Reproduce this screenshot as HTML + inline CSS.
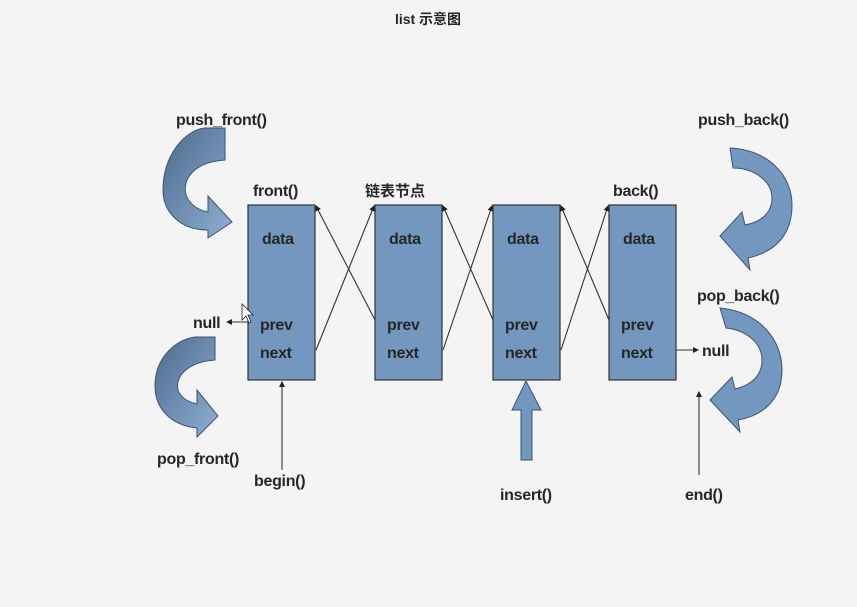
<!DOCTYPE html>
<html><head><meta charset="utf-8"><style>
html,body{margin:0;padding:0;background:#f4f4f4;}
svg{display:block}
text{font-family:"Liberation Sans","Noto Sans CJK SC",sans-serif;font-size:16px;font-weight:bold;fill:#262626;letter-spacing:-0.3px;}
</style></head><body>
<svg width="857" height="607" viewBox="0 0 857 607" xmlns="http://www.w3.org/2000/svg">
<defs>
<marker id="ah" markerWidth="6" markerHeight="6" refX="5" refY="3" orient="auto" markerUnits="userSpaceOnUse"><path d="M0,0 L6,3 L0,6 z" fill="#222"/></marker>
<linearGradient id="g1" x1="0" y1="0" x2="1" y2="1"><stop offset="0" stop-color="#4d6a8c"/><stop offset="1" stop-color="#8fb0d4"/></linearGradient>
</defs>
<rect width="857" height="607" fill="#f4f4f4"/>
<text x="428" y="24" text-anchor="middle" style="font-size:14px;letter-spacing:0">list 示意图</text>

<g fill="#7497c0" stroke="#333" stroke-width="1.2">
<rect x="248" y="205" width="67" height="175"/>
<rect x="375" y="205" width="67" height="175"/>
<rect x="493" y="205" width="67" height="175"/>
<rect x="609" y="205" width="67" height="175"/>
</g>
<g>
<text x="262" y="244">data</text><text x="260" y="330">prev</text><text x="260" y="358">next</text>
<text x="389" y="244">data</text><text x="387" y="330">prev</text><text x="387" y="358">next</text>
<text x="507" y="244">data</text><text x="505" y="330">prev</text><text x="505" y="358">next</text>
<text x="623" y="244">data</text><text x="621" y="330">prev</text><text x="621" y="358">next</text>
</g>
<g stroke="#333" stroke-width="1.1" fill="none">
<line x1="375" y1="320" x2="316" y2="206" marker-end="url(#ah)"/>
<line x1="316" y1="350" x2="374" y2="206" marker-end="url(#ah)"/>
<line x1="493" y1="320" x2="443" y2="206" marker-end="url(#ah)"/>
<line x1="443" y1="350" x2="492" y2="206" marker-end="url(#ah)"/>
<line x1="609" y1="320" x2="561" y2="206" marker-end="url(#ah)"/>
<line x1="561" y1="350" x2="608" y2="206" marker-end="url(#ah)"/>
<line x1="248" y1="322" x2="227" y2="322" marker-end="url(#ah)"/>
<line x1="676" y1="350" x2="698" y2="350" marker-end="url(#ah)"/>
<line x1="282" y1="470" x2="282" y2="382" marker-end="url(#ah)"/>
<line x1="699" y1="475" x2="699" y2="392" marker-end="url(#ah)"/>
</g>
<text x="253" y="196">front()</text>
<text x="365" y="196" style="font-size:15px;letter-spacing:0">链表节点</text>
<text x="613" y="196">back()</text>
<text x="193" y="328">null</text>
<text x="702" y="356">null</text>
<text x="176" y="125">push_front()</text>
<text x="698" y="125">push_back()</text>
<text x="697" y="301">pop_back()</text>
<text x="157" y="464">pop_front()</text>
<text x="254" y="486">begin()</text>
<text x="500" y="500">insert()</text>
<text x="685" y="500">end()</text>

<path d="M526,381 L541,410 L532,410 L532,460 L521,460 L521,410 L512,410 Z" fill="#7497c0" stroke="#3d5472" stroke-width="1"/>

<g stroke="#3d5472" stroke-width="1">
<path d="M205,128 L225,128 L225,160 C195,162 182,178 186,195 C190,205 198,210 208,212 L208,196 L232,222 L208,238 L208,230 C180,230 163,212 163,190 C163,155 185,130 205,128 Z" fill="url(#g1)"/>
<path d="M195,337 L215,337 L215,360 C188,362 175,376 178,390 C181,398 188,402 197,404 L197,390 L218,416 L197,437 L197,428 C170,425 155,408 155,386 C155,358 175,340 195,337 Z" fill="url(#g1)"/>
<path d="M730,148 C768,150 792,175 792,205 C792,235 775,252 748,258 L750,270 L720,236 L742,212 L745,225 C762,222 772,212 772,198 C772,182 755,168 733,168 Z" fill="#7497c0"/>
<path d="M720,308 C760,312 782,340 782,370 C782,398 765,415 738,420 L740,432 L710,400 L732,377 L735,389 C752,385 762,375 762,360 C762,342 745,330 726,328 Z" fill="#7497c0"/>
</g>
<path d="M242,304 L242,320 L246,316 L249,323 L251,322 L248,315 L253,315 Z" fill="#fff" stroke="#222" stroke-width="0.8"/>
</svg>
</body></html>
